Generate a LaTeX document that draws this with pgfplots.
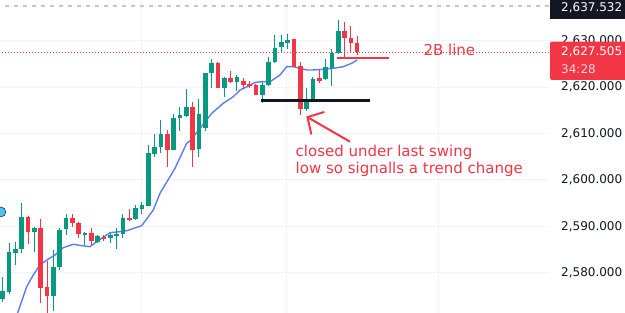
\documentclass[border=0pt]{standalone}
\usepackage{fontspec}
\setmainfont{DejaVu Sans}
\usepackage{pgfplots}
\usepackage{pgfplotstable}
\pgfplotsset{compat=1.18}
\usetikzlibrary{arrows.meta}
\definecolor{tvgreen}{HTML}{089981}
\definecolor{tvred}{HTML}{F23645}
\definecolor{tvblue}{HTML}{5B7CF5}
\definecolor{tvtext}{HTML}{131722}
\definecolor{tvgrid}{HTML}{F0F3FA}
\definecolor{tvdash}{HTML}{C3C6CC}
\definecolor{tvcyan}{HTML}{4DC0EE}

\pgfplotstableread{
i o h l c
0 2574.33 2579.07 2573.69 2576.06
1 2575.91 2586.34 2575.34 2584.53
2 2584.31 2586.68 2581.66 2585.11
3 2585.04 2594.96 2584.18 2592.07
5 2588.71 2589.78 2584.53 2589.57
8 2574.98 2584.89 2571.81 2581.29
9 2581.16 2589.57 2580.58 2589.20
10 2589.35 2592.65 2588.12 2591.72
13 2588.19 2588.84 2585.97 2588.49
15 2586.55 2588.12 2586.34 2587.91
17 2587.41 2588.49 2586.34 2588.12
18 2588.06 2589.57 2585.11 2588.34
19 2588.28 2592.65 2587.54 2591.72
21 2591.57 2594.59 2591.36 2593.88
22 2593.73 2595.30 2592.59 2594.59
23 2594.44 2607.52 2594.44 2605.73
24 2605.58 2609.89 2605.00 2607.16
25 2607.16 2612.91 2605.73 2609.89
27 2606.44 2614.14 2606.44 2613.41
28 2613.28 2615.65 2610.54 2613.99
29 2613.77 2619.59 2613.62 2615.65
31 2606.66 2617.44 2604.87 2614.20
32 2611.12 2623.00 2610.54 2622.97
33 2622.97 2625.99 2619.87 2625.13
35 2619.74 2622.24 2617.93 2621.90
37 2621.16 2622.61 2619.16 2622.24
41 2618.30 2621.16 2616.51 2620.45
42 2620.45 2626.55 2620.30 2625.47
43 2625.34 2631.23 2625.13 2628.49
44 2628.58 2631.34 2627.35 2629.66
45 2629.61 2631.44 2628.21 2630.15
48 2615.22 2619.74 2614.91 2616.85
49 2617.00 2622.24 2616.85 2621.75
51 2621.68 2625.99 2621.53 2624.27
52 2624.05 2628.15 2620.24 2627.28
53 2627.28 2634.46 2627.13 2632.16
}\upc

\pgfplotstableread{
i o h l c
4 2592.07 2592.20 2586.12 2588.71
6 2589.57 2591.51 2573.41 2576.64
7 2576.85 2582.59 2570.00 2574.98
11 2591.72 2592.65 2589.91 2590.65
12 2590.78 2590.90 2587.41 2588.28
14 2588.49 2589.57 2585.97 2586.90
16 2587.76 2588.12 2586.83 2587.41
20 2591.72 2593.73 2591.21 2591.36
26 2609.89 2610.75 2602.84 2606.44
30 2615.71 2616.68 2602.84 2606.51
34 2625.13 2625.34 2619.74 2619.74
36 2622.03 2623.53 2620.82 2621.16
38 2621.38 2622.03 2619.59 2620.45
39 2620.67 2621.31 2619.87 2620.24
40 2620.45 2620.60 2618.30 2618.30
46 2630.30 2630.37 2624.40 2624.40
47 2624.55 2625.34 2613.99 2615.22
50 2621.90 2623.84 2620.95 2621.38
54 2632.16 2634.09 2626.21 2630.52
55 2630.52 2633.17 2627.28 2629.44
56 2629.44 2631.01 2626.92 2627.505
}\downc

\pgfplotstableread{
x p
2.10 2570.30
3.79 2576.98
4.83 2579.50
5.89 2581.66
7.20 2582.95
8.26 2583.81
9.57 2585.39
11.15 2586.12
12.48 2585.82
13.79 2585.60
14.85 2586.68
15.89 2587.63
16.95 2588.62
18.53 2588.84
19.59 2589.05
21.96 2590.13
23.79 2593.51
24.85 2597.11
25.64 2598.90
27.22 2602.50
29.07 2607.90
29.59 2608.40
31.17 2611.12
33.02 2614.35
34.85 2616.51
36.43 2617.93
37.49 2619.37
38.80 2620.20
39.86 2621.00
40.92 2621.16
42.23 2621.16
43.81 2622.61
44.87 2624.40
45.91 2624.40
46.97 2624.05
48.03 2623.69
49.07 2623.69
50.65 2623.84
52.23 2624.05
53.81 2624.40
55.13 2625.13
56.02 2625.84
}\mav

\begin{document}
\begin{tikzpicture}[x=1pt,y=1pt]
\useasboundingbox (0,0) rectangle (625,313);
\clip (0,0) rectangle (625,313);
\fill[white] (0,0) rectangle (625,313);
\begin{axis}[
  at={(0pt,-29.28pt)}, anchor=south west,
  scale only axis, width=549pt, height=371.2pt,
  xmin=-0.4265, xmax=86.30, ymin=2565, ymax=2645,
  axis line style={draw=none},
  major tick length=0pt,
  xtick={22,44.91,68.77}, xticklabel=\empty,
  ytick={2570,2580,...,2640},
  xmajorgrids, ymajorgrids,
  grid style={tvgrid, line width=1pt},
  yticklabel pos=right,
  yticklabel style={anchor=west, inner sep=0pt, xshift=12pt, text=tvtext, font=\fontsize{12}{14}\selectfont},
  yticklabel={\pgfmathprintnumber[fixed,fixed zerofill,precision=3,1000 sep={,},assume math mode=true]{\tick}},
  candle/.style={draw=none, mark=none, error bars/.cd, y dir=both, y explicit, error mark=none},
]
% price lines
\addplot[tvdash, line width=1.6pt, dash pattern=on 4pt off 5pt] coordinates {(-1,2637.532) (90,2637.532)};
\addplot[tvred, line width=1pt, dash pattern=on 1pt off 2pt] coordinates {(-1,2627.505) (90,2627.505)};
% moving average
\addplot[tvblue, line width=1.4pt] table[x=x, y=p] {\mav};
% wicks
\addplot[candle, error bar style={draw=tvgreen, line width=1pt}]
  table[x=i, y expr={(\thisrow{h}+\thisrow{l})/2}, y error expr={(\thisrow{h}-\thisrow{l})/2}] {\upc};
\addplot[candle, error bar style={draw=tvred, line width=1pt}]
  table[x=i, y expr={(\thisrow{h}+\thisrow{l})/2}, y error expr={(\thisrow{h}-\thisrow{l})/2}] {\downc};
% bodies
\addplot[candle, error bar style={draw=tvgreen, line width=4.6pt}]
  table[x=i, y expr={(\thisrow{o}+\thisrow{c})/2}, y error expr={max(abs(\thisrow{c}-\thisrow{o})/2,0.11)}] {\upc};
\addplot[candle, error bar style={draw=tvred, line width=4.6pt}]
  table[x=i, y expr={(\thisrow{o}+\thisrow{c})/2}, y error expr={max(abs(\thisrow{c}-\thisrow{o})/2,0.11)}] {\downc};
% annotation lines
\addplot[tvtext, line width=2.6pt] coordinates {(40.8,2617.1) (58.0,2617.1)};
\addplot[tvred, line width=2.4pt] coordinates {(52.86,2626.21) (61.07,2626.21)};
% event marker at left edge
\addplot[only marks, mark=*, mark size=5pt, mark options={fill=tvcyan, draw=none}] coordinates {(-0.3,2593.08)};
% texts
\node[anchor=base west, inner sep=0pt, text=tvred, font=\fontsize{15}{18}\selectfont] at (axis cs:66.45,2626.70) {2B line};
\node[anchor=base west, inner sep=0pt, text=tvred, font=\fontsize{15}{18}\selectfont] at (axis cs:46.25,2605.00) {closed under last swing};
\node[anchor=base west, inner sep=0pt, text=tvred, font=\fontsize{15}{18}\selectfont] at (axis cs:46.25,2601.42) {low so signalls a trend change};
\draw[tvred, line width=2pt, -{Straight Barb[length=12pt,width=26pt]}] (axis cs:54.86,2608.23) -- (axis cs:47.96,2613.66);
\end{axis}
% price scale labels
\fill[tvtext] (550,294) rectangle (630,320);
\node[anchor=west, inner sep=0pt, text=white, font=\fontsize{12}{14}\selectfont] at (561,305.7) {2,637.532};
\fill[tvred, rounded corners=1.5pt] (550,233) rectangle (632,271.3);
\node[anchor=west, inner sep=0pt, text=white, font=\fontsize{12}{14}\selectfont] at (561,261.3) {2,627.505};
\node[anchor=west, inner sep=0pt, text=white!80!tvred, font=\fontsize{12}{14}\selectfont] at (561,244) {34:28};
\end{tikzpicture}
\end{document}
